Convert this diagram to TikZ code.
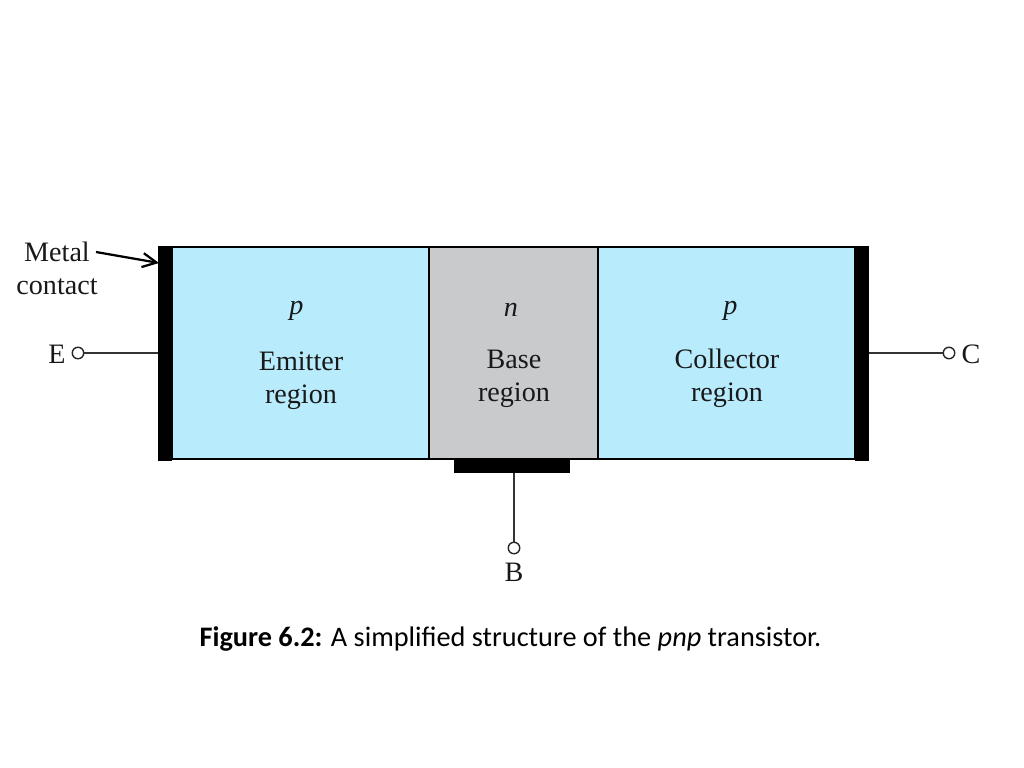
\documentclass[tikz,border=0pt]{standalone}
\usepackage{fontspec}
\setmainfont{Liberation Serif}
\newfontfamily\captionfont{Carlito}
\usetikzlibrary{arrows.meta,positioning}
\definecolor{regionblue}{RGB}{184,236,253}
\definecolor{regiongray}{RGB}{200,202,204}
\tikzset{
  region/.style={draw=black,line width=2.1pt,inner sep=0pt,outer sep=0pt,anchor=north west},
  metalbar/.style={fill=black,inner sep=0pt,outer sep=0pt,anchor=north west},
  terminal/.style={circle,draw=black!85,fill=white,line width=1pt,inner sep=0pt,outer sep=0pt,minimum size=8.2pt},
  lead/.style={black!80,line width=1pt},
  label/.style={font=\fontsize{20}{23.6}\selectfont,align=center,text=black!90,inner sep=0pt},
}
\begin{document}
\begin{tikzpicture}[x=0.025cm,y=-0.025cm,>={Straight Barb[length=10pt,width=10pt]}]
  \useasboundingbox (0,0) rectangle (1024,768);
  % regions
  \node[region,fill=regionblue,minimum width=257*0.025cm,minimum height=212*0.025cm] (emitter) at (172,247) {};
  \node[region,fill=regiongray,minimum width=169*0.025cm,minimum height=212*0.025cm] (base) at (429,247) {};
  \node[region,fill=regionblue,minimum width=257*0.025cm,minimum height=212*0.025cm] (collector) at (598,247) {};
  % metal contacts
  \node[metalbar,minimum width=14*0.025cm,minimum height=215*0.025cm] (metalE) at (158,245.5) {};
  \node[metalbar,minimum width=14*0.025cm,minimum height=215*0.025cm] (metalC) at (855,245.5) {};
  \node[metalbar,minimum width=116*0.025cm,minimum height=14*0.025cm] (metalB) at (454,459) {};
  % region labels
  \node[label] (typeE) at (296.5,311) {\textit{p}};
  \node[label] (nameE) at (301,381) {Emitter\\region};
  \node[label] (typeB) at (511,310) {\textit{n}};
  \node[label] (nameB) at (514,378.5) {Base\\region};
  \node[label] (typeC) at (730.5,311) {\textit{p}};
  \node[label] (nameC) at (727,378) {Collector\\region};
  % terminals
  \node[terminal] (termE) at (78,353) {};
  \node[terminal] (termC) at (949,353) {};
  \node[terminal] (termB) at (514,548) {};
  \node[label] (textE) at (57,354) {E};
  \node[label] (textC) at (971,354) {C};
  \node[label] (textB) at (514,572) {B};
  \draw[lead] (termE) -- (termE -| metalE.west);
  \draw[lead] (termC) -- (termC -| metalC.east);
  \draw[lead] (termB) -- (termB |- metalB.south);
  % metal contact callout
  \node[label] (metal) at (57,268) {Metal\\contact};
  \coordinate (metaltip) at (159,263);
  \coordinate (metaltail) at (96,252);
  \draw[->,line width=1.6pt] (metaltail) -- (metaltip);
  % caption
  \node[font=\captionfont\fontsize{20.1}{24}\selectfont,inner sep=0pt] (caption) at (510.5,639)
     {\textbf{Figure 6.2:} A simplified structure of the \textit{pnp} transistor.};
\end{tikzpicture}
\end{document}
